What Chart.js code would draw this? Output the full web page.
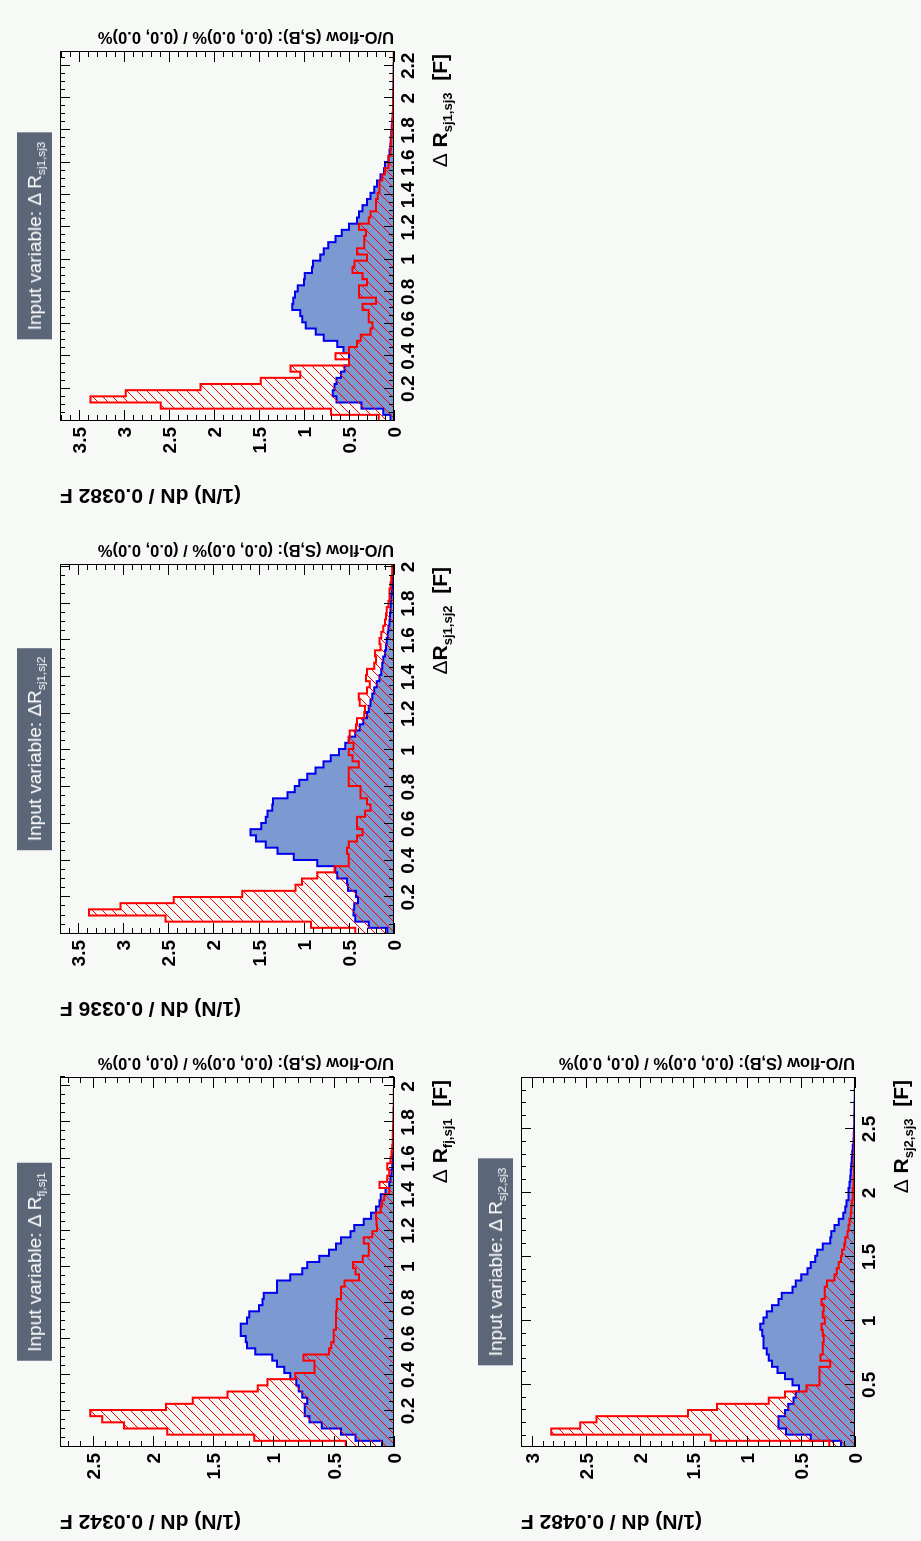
<!DOCTYPE html>
<html>
<head>
<meta charset="utf-8">
<title>Input variables</title>
<script src="https://cdn.jsdelivr.net/npm/chart.js@4.4.1/dist/chart.umd.min.js"></script>
<style>
  html, body { margin: 0; padding: 0; width: 921px; height: 1541px; overflow: hidden; background: #f6f9f6; }
  /* the canvas sheet is laid out landscape and turned onto the portrait page */
  #sheet { position: absolute; left: 0; top: 0; width: 1541px; height: 921px; transform-origin: 0 0;
           transform: translate(0, 1541px) rotate(-90deg); background: #f6f9f6;
           font-family: "Liberation Sans", Arial, Helvetica, sans-serif; color: #000; }
  .cell { position: absolute; width: 513px; height: 461px; }
  .cell canvas { position: absolute; left: 0; top: 0; }
  .title { position: absolute; top: 17px; left: 279px; transform: translateX(-50%); height: 35px; line-height: 35px;
           padding: 0 9px; background: #5b6678; color: #fff; font-size: 19px; white-space: nowrap; }
  .xtitle { position: absolute; right: 52px; top: 429px; font-weight: bold; font-size: 21px; line-height: 21px; white-space: nowrap; }
  .ytitle, .flow { position: absolute; transform-origin: 0 0; transform: rotate(-90deg); white-space: nowrap; font-weight: bold; }
  .ytitle { left: 7px; top: 300px; width: 240px; height: 24px; line-height: 24px; font-size: 21px; text-align: right; }
  .flow { left: 468px; top: 394px; height: 18px; line-height: 18px; font-size: 16.5px; }
  .d { font-weight: normal; }
  sub { font-size: 0.62em; vertical-align: -0.35em; line-height: 0; }
</style>
</head>
<body>
<div id="sheet">
  <div class="cell" style="left:0;top:0">
    <canvas id="cFjSj1" width="513" height="461"></canvas>
    <div class="title">Input variable: <span class="d">Δ</span> R<sub>fj,sj1</sub></div>
    <div class="xtitle"><span class="d">Δ</span> R<sub>fj,sj1</sub>&nbsp; [F]</div>
    <div class="ytitle">(1/N) dN / 0.0342 F</div>
    <div class="flow">U/O-flow (S,B): (0.0, 0.0)% / (0.0, 0.0)%</div>
  </div>
  <div class="cell" style="left:513px;top:0">
    <canvas id="cSj1Sj2" width="513" height="461"></canvas>
    <div class="title">Input variable: <span class="d">Δ</span>R<sub>sj1,sj2</sub></div>
    <div class="xtitle"><span class="d">Δ</span>R<sub>sj1,sj2</sub>&nbsp; [F]</div>
    <div class="ytitle">(1/N) dN / 0.0336 F</div>
    <div class="flow">U/O-flow (S,B): (0.0, 0.0)% / (0.0, 0.0)%</div>
  </div>
  <div class="cell" style="left:1026px;top:0">
    <canvas id="cSj1Sj3" width="513" height="461"></canvas>
    <div class="title">Input variable: <span class="d">Δ</span> R<sub>sj1,sj3</sub></div>
    <div class="xtitle"><span class="d">Δ</span> R<sub>sj1,sj3</sub>&nbsp; [F]</div>
    <div class="ytitle">(1/N) dN / 0.0382 F</div>
    <div class="flow">U/O-flow (S,B): (0.0, 0.0)% / (0.0, 0.0)%</div>
  </div>
  <div class="cell" style="left:0;top:461px">
    <canvas id="cSj2Sj3" width="513" height="461"></canvas>
    <div class="title">Input variable: <span class="d">Δ</span> R<sub>sj2,sj3</sub></div>
    <div class="xtitle"><span class="d">Δ</span> R<sub>sj2,sj3</sub>&nbsp; [F]</div>
    <div class="ytitle">(1/N) dN / 0.0482 F</div>
    <div class="flow">U/O-flow (S,B): (0.0, 0.0)% / (0.0, 0.0)%</div>
  </div>
</div>

<script>
// 60 bins per variable, normalised (1/N) dN per bin
const fjsj1Sig = [0.10, 0.32, 0.44, 0.60, 0.70, 0.74, 0.74, 0.72, 0.76, 0.79,
                  0.81, 0.86, 0.91, 0.97, 1.01, 1.15, 1.22, 1.23, 1.27, 1.27,
                  1.22, 1.20, 1.12, 1.09, 1.08, 0.97, 0.97, 0.86, 0.76, 0.72,
                  0.62, 0.54, 0.48, 0.44, 0.36, 0.33, 0.25, 0.19, 0.15, 0.12,
                  0.11, 0.07, 0.04, 0.03, 0.02, 0.015, 0.01, 0.01, 0.008, 0.006,
                  0.005, 0.004, 0.003, 0.002, 0.002, 0.001, 0.001, 0, 0, 0];
const fjsj1Bkg = [0.40, 1.16, 1.88, 2.24, 2.42, 2.52, 1.89, 1.67, 1.38, 1.13,
                  1.05, 0.82, 0.66, 0.66, 0.75, 0.54, 0.52, 0.50, 0.50, 0.48,
                  0.48, 0.48, 0.475, 0.475, 0.44, 0.44, 0.41, 0.29, 0.32, 0.34,
                  0.26, 0.21, 0.21, 0.25, 0.18, 0.14, 0.145, 0.15, 0.11, 0.10,
                  0.08, 0.04, 0.12, 0.055, 0.04, 0.055, 0.03, 0.02, 0.015, 0.01,
                  0.01, 0.008, 0.006, 0.005, 0.004, 0.003, 0.002, 0.002, 0.001, 0.001];

const sj1sj2Sig = [0.075, 0.28, 0.43, 0.45, 0.44, 0.40, 0.42, 0.51, 0.52, 0.63,
                   0.65, 0.85, 1.11, 1.29, 1.42, 1.53, 1.59, 1.47, 1.42, 1.40,
                   1.35, 1.34, 1.18, 1.10, 1.05, 0.96, 0.87, 0.78, 0.70, 0.61,
                   0.54, 0.50, 0.43, 0.38, 0.34, 0.30, 0.28, 0.26, 0.24, 0.22,
                   0.19, 0.16, 0.14, 0.13, 0.12, 0.10, 0.09, 0.08, 0.07, 0.06,
                   0.05, 0.045, 0.04, 0.035, 0.03, 0.025, 0.02, 0.02, 0.015, 0.01];
const sj1sj2Bkg = [0.43, 0.92, 2.53, 3.38, 3.03, 2.44, 1.68, 1.09, 1.02, 0.85,
                   0.66, 0.50, 0.50, 0.52, 0.50, 0.41, 0.35, 0.41, 0.41, 0.32,
                   0.26, 0.30, 0.37, 0.37, 0.50, 0.50, 0.50, 0.39, 0.46, 0.50,
                   0.45, 0.50, 0.49, 0.42, 0.41, 0.33, 0.32, 0.38, 0.39, 0.30,
                   0.27, 0.31, 0.30, 0.22, 0.20, 0.21, 0.15, 0.16, 0.14, 0.12,
                   0.10, 0.09, 0.08, 0.06, 0.05, 0.05, 0.04, 0.03, 0.02, 0.02];

const sj1sj3Sig = [0.04, 0.12, 0.36, 0.64, 0.68, 0.66, 0.64, 0.59, 0.55, 0.50,
                   0.50, 0.56, 0.63, 0.78, 0.87, 0.98, 1.02, 1.04, 1.13, 1.12,
                   1.10, 1.07, 1.00, 0.99, 0.91, 0.90, 0.82, 0.78, 0.73, 0.65,
                   0.58, 0.50, 0.41, 0.39, 0.35, 0.30, 0.26, 0.22, 0.19, 0.15,
                   0.11, 0.10, 0.06, 0.05, 0.04, 0.035, 0.03, 0.025, 0.02, 0.015,
                   0.012, 0.01, 0.008, 0.006, 0.005, 0.004, 0.003, 0.002, 0.001, 0.001];
const sj1sj3Bkg = [0.17, 0.70, 2.59, 3.37, 2.98, 2.15, 1.48, 1.04, 1.15, 0.50,
                   0.65, 0.50, 0.41, 0.37, 0.26, 0.24, 0.28, 0.28, 0.35, 0.20,
                   0.39, 0.39, 0.30, 0.35, 0.46, 0.44, 0.30, 0.41, 0.33, 0.33,
                   0.31, 0.39, 0.28, 0.26, 0.20, 0.20, 0.18, 0.16, 0.16, 0.13,
                   0.10, 0.06, 0.06, 0.04, 0.035, 0.03, 0.025, 0.02, 0.018, 0.015,
                   0.012, 0.01, 0.008, 0.007, 0.006, 0.005, 0.004, 0.003, 0.002, 0.002];

const sj2sj3Sig = [0.13, 0.41, 0.64, 0.71, 0.71, 0.65, 0.62, 0.57, 0.55, 0.52,
                   0.58, 0.65, 0.72, 0.77, 0.80, 0.82, 0.85, 0.85, 0.86, 0.88,
                   0.85, 0.82, 0.77, 0.71, 0.68, 0.58, 0.55, 0.50, 0.44, 0.41,
                   0.37, 0.35, 0.30, 0.23, 0.22, 0.19, 0.15, 0.11, 0.09, 0.08,
                   0.06, 0.06, 0.05, 0.045, 0.04, 0.035, 0.03, 0.025, 0.02, 0.015,
                   0.012, 0.01, 0.008, 0.006, 0.005, 0.004, 0.003, 0.002, 0.001, 0.001];
const sj2sj3Bkg = [0.24, 1.34, 2.82, 2.55, 2.40, 1.55, 1.28, 0.80, 0.65, 0.45,
                   0.33, 0.33, 0.33, 0.23, 0.32, 0.30, 0.30, 0.29, 0.30, 0.31,
                   0.28, 0.30, 0.29, 0.31, 0.28, 0.28, 0.26, 0.19, 0.17, 0.15,
                   0.13, 0.12, 0.10, 0.09, 0.07, 0.06, 0.05, 0.04, 0.035, 0.03,
                   0.02, 0.02, 0.015, 0.012, 0.01, 0.01, 0.008, 0.006, 0.005, 0.005,
                   0.004, 0.003, 0.003, 0.002, 0.002, 0.001, 0.001, 0.001, 0, 0];

// lower edge of the first bin and the bin width of each variable
const binStart = [0.0, 0.0, 0.0, 0.014];
const binWidth = [0.0342, 0.0336, 0.0382, 0.0482];
const yMax     = [2.77, 3.70, 3.71, 3.10];
// major / minor tick steps on each axis
const xMajor = [0.2, 0.2, 0.2, 0.5];
const xMinor = [0.05, 0.05, 0.05, 0.1];
const yMajor = [0.5, 0.5, 0.5, 0.5];
const yMinor = [0.1, 0.1, 0.1, 0.1];

const FONT = '"Liberation Sans", Arial, Helvetica, sans-serif';

function histPoints(vals, x0, w) {
  const pts = [{ x: x0, y: 0 }];
  vals.forEach((v, i) => pts.push({ x: x0 + i * w, y: v }));
  const end = x0 + vals.length * w;
  pts.push({ x: end, y: vals[vals.length - 1] });
  pts.push({ x: end, y: 0 });
  return pts;
}

// pixel-stepped diagonal hatching, like ROOT fill style 3004;
// shift keeps the hatch lines on the same pixel grid in every cell
function hatch(ctx, shift) {
  const c = document.createElement('canvas');
  c.width = 10; c.height = 10;
  const g = c.getContext('2d');
  g.fillStyle = '#ff0000';
  for (let i = 0; i < 10; i++) g.fillRect(i, (9 - i + shift) % 10, 1, 1);
  return ctx.createPattern(c, 'repeat');
}

function tickValues(min, max, step) {
  const out = [];
  for (let k = Math.ceil(min / step - 1e-6); k * step <= max + 1e-9; k++) out.push(+(k * step).toFixed(4));
  return out;
}
const isMajor = (v, step) => Math.abs(v / step - Math.round(v / step)) < 1e-4;

// ROOT style frame: inward ticks on all four sides, labels on bottom/left
const rootFrame = {
  id: 'rootFrame',
  afterDatasetsDraw(chart, args, o) {
    const { ctx, chartArea: a, scales: { x, y } } = chart;
    ctx.save();
    ctx.strokeStyle = '#000';
    ctx.lineWidth = 1;
    ctx.beginPath();
    tickValues(x.min, x.max, o.xMinor).forEach(v => {
      const px = Math.round(x.getPixelForValue(v)) + 0.5;
      const len = isMajor(v, o.xMajor) ? 10 : 5;
      ctx.moveTo(px, a.bottom); ctx.lineTo(px, a.bottom - len);
      ctx.moveTo(px, a.top); ctx.lineTo(px, a.top + len);
    });
    tickValues(y.min, y.max, o.yMinor).forEach(v => {
      const py = Math.round(y.getPixelForValue(v)) + 0.5;
      const len = isMajor(v, o.yMajor) ? 11 : 6;
      ctx.moveTo(a.left, py); ctx.lineTo(a.left + len, py);
      ctx.moveTo(a.right, py); ctx.lineTo(a.right - len, py);
    });
    ctx.stroke();
    ctx.strokeRect(a.left + 0.5, a.top + 0.5, a.right - a.left - 1, a.bottom - a.top - 1);

    ctx.fillStyle = '#000';
    ctx.font = 'bold 19px ' + FONT;
    ctx.textAlign = 'center';
    ctx.textBaseline = 'alphabetic';
    tickValues(x.min, x.max, o.xMajor).forEach(v => {
      if (v <= 0) return;
      ctx.fillText(String(+v.toFixed(2)), x.getPixelForValue(v), a.bottom + 20);
    });
    ctx.textAlign = 'right';
    tickValues(0, y.max, o.yMajor).forEach(v => {
      ctx.fillText(String(+v.toFixed(2)), a.left - 6, y.getPixelForValue(v) + 7);
    });
    ctx.restore();
  }
};

function drawPanel(id, k, sig, bkg) {
  const canvas = document.getElementById(id);
  const ctx = canvas.getContext('2d');
  const cell = canvas.parentElement;
  const shift = (cell.offsetLeft + cell.offsetTop) % 2 === 0 ? 1 : 0;
  const x0 = binStart[k], w = binWidth[k];
  new Chart(ctx, {
    type: 'line',
    data: {
      datasets: [
        { label: 'Background', data: histPoints(bkg, x0, w), stepped: true, order: 0,
          borderColor: '#ff0000', borderWidth: 2, backgroundColor: hatch(ctx, shift), fill: 'origin' },
        { label: 'Signal', data: histPoints(sig, x0, w), stepped: true, order: 1,
          borderColor: '#0000ee', borderWidth: 2, backgroundColor: '#7d99d1', fill: 'origin' }
      ]
    },
    options: {
      responsive: false,
      animation: false,
      events: [],
      layout: { padding: { left: 94, right: 49, top: 60, bottom: 67 } },
      elements: { point: { radius: 0 }, line: { tension: 0, borderJoinStyle: 'miter' } },
      scales: {
        x: { type: 'linear', display: false, min: x0, max: x0 + sig.length * w },
        y: { type: 'linear', display: false, min: 0, max: yMax[k] }
      },
      plugins: {
        legend: { display: false },
        tooltip: { enabled: false },
        rootFrame: { xMajor: xMajor[k], xMinor: xMinor[k], yMajor: yMajor[k], yMinor: yMinor[k] }
      }
    },
    plugins: [rootFrame]
  });
}

drawPanel('cFjSj1', 0, fjsj1Sig, fjsj1Bkg);
drawPanel('cSj1Sj2', 1, sj1sj2Sig, sj1sj2Bkg);
drawPanel('cSj1Sj3', 2, sj1sj3Sig, sj1sj3Bkg);
drawPanel('cSj2Sj3', 3, sj2sj3Sig, sj2sj3Bkg);
</script>
</body>
</html>
